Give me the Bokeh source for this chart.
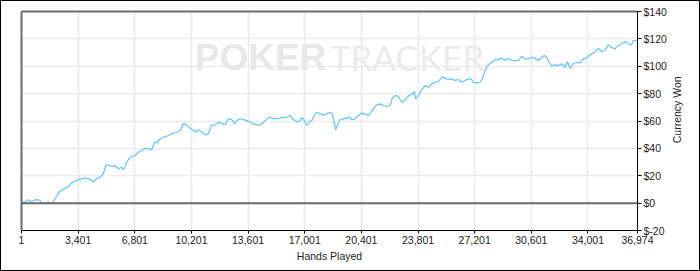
import math
from bokeh.plotting import figure
from bokeh.layouts import row
from bokeh.models import FixedTicker, LinearAxis, Range1d, Label, Span
from bokeh.embed import file_html
from bokeh.resources import INLINE

hands = [1, 222, 420, 582, 720, 918, 1122, 1260, 1422, 1620, 1782, 1920, 2058, 2220, 2382, 2622, 2820, 3018, 3180, 3378,
         3618, 3822, 4020, 4182, 4320, 4482, 4722, 4920, 5058, 5220, 5418, 5622, 5820, 6018, 6120,
         6318, 6522, 6822, 7020, 7218, 7422, 7620, 7818, 7980, 8118, 8322, 8520, 8820, 9018, 9318, 9522, 9720, 9918, 10122, 10320,
         10458, 10620, 10818, 11058, 11220, 11382, 11622, 11820, 12120,
         12222, 12420, 12618, 12780, 12918, 13122, 13320, 13518, 13722, 13920, 14118, 14322, 14520, 14718, 14922, 15120, 15318, 15522, 15720, 15918,
         16122, 16260, 16422, 16578, 16722, 16818, 16980, 17118, 17262, 17418, 17580, 17718, 17922, 18120,
         18222, 18522, 18660, 18780, 18858, 18978, 19122, 19320, 19518, 19722, 19818, 20022, 20220, 20418, 20622, 20820, 20982, 21120, 21318, 21522,
         21720, 21918, 22122, 22260, 22458, 22620, 22782, 22920, 23058, 23262, 23460, 23580, 23658, 23820, 23922, 24060,
         24222, 24420, 24618, 24822, 25020, 25260, 25422, 25620, 25818, 26022, 26220, 26418, 26622, 26820, 26982, 27120, 27318, 27522, 27678, 27822,
         27978, 28218, 28422, 28620, 28818, 29022, 29220, 29418, 29622,
         29820, 30018, 30222, 30420, 30618, 30822, 31020, 31218, 31380, 31518, 31662, 31818, 32022, 32220, 32418, 32622, 32778, 32922, 33120, 33318,
         33522, 33720, 33918, 34020, 34218, 34422, 34620, 34818, 35022, 35220, 35382, 35622, 35820, 36018, 36222, 36420, 36618, 36720, 36918, 36974]

won = [0, 0.7, 2.4, 1.2, 1.9, 2.6, 1.9, -0.5, 0.2, 0.7, -0.1, 1.2, 3.9, 7.5, 9.2, 10.9, 12.1, 14.8, 16.0, 17.0,
       17.7, 18.5, 17.7, 17.0, 15.3, 17.7, 18.9, 21.8, 27.5, 28.0, 26.7, 27.5, 25.1, 26.2, 24.3,
       29.9, 33.5, 34.8, 37.2, 38.4, 40.1, 39.7, 38.9, 44.5, 44.0, 47.0, 48.1, 49.4, 50.6, 51.8, 53.0, 57.9, 57.2, 54.7, 53.0,
       51.8, 53.5, 51.8, 49.9, 50.6, 56.7, 57.2, 59.1, 57.9,
       57.2, 61.6, 61.1, 57.9, 60.3, 61.6, 61.1, 60.3, 59.1, 57.9, 57.2, 57.4, 58.7, 61.6, 62.7, 61.6, 62.0, 62.0, 62.7, 62.7,
       64.0, 61.6, 60.3, 59.1, 60.3, 62.7, 60.3, 56.7, 59.1, 60.3, 64.0, 66.4, 65.2, 64.5,
       64.7, 66.4, 65.2, 58.4, 53.5, 57.4, 60.9, 61.6, 62.3, 62.7, 60.9, 61.6, 64.0, 65.7, 65.2, 64.0, 66.4, 68.9, 71.8, 72.5,
       71.3, 70.6, 71.3, 76.9, 78.6, 77.9, 74.4, 73.7, 76.2, 78.6, 79.8, 81.7, 76.2, 78.6, 81.0, 83.5,
       85.9, 84.7, 87.1, 88.3, 88.8, 92.5, 91.2, 90.3, 90.8, 89.6, 90.3, 88.3, 89.6, 90.8, 90.8, 88.3, 87.9, 88.3, 91.2, 96.9,
       100.5, 102.9, 104.7, 104.9, 105.9, 104.2, 105.9, 104.2, 104.2,
       104.2, 107.3, 105.4, 105.4, 106.4, 105.9, 104.2, 106.6, 107.8, 106.6, 102.9, 100.0, 101.0, 100.5, 101.8, 99.3, 103.4, 98.5, 101.8, 102.9,
       102.5, 105.4, 105.9, 107.3, 109.1, 110.2, 113.2, 110.7, 111.5, 115.6, 113.9, 112.7, 115.1, 116.4, 118.0, 116.4, 115.6, 118.8, 118.8, 119.5]

x_ticks = [1, 3401, 6801, 10201, 13601, 17001, 20401, 23801, 27201, 30601, 34001, 36974]
x_tick_labels = ["1", "3,401", "6,801", "10,201", "13,601", "17,001", "20,401", "23,801",
                 "27,201", "30,601", "34,001", "36,974"]
y_ticks = [-20, 0, 20, 40, 60, 80, 100, 120, 140]
y_tick_labels = ["$-20", "$0", "$20", "$40", "$60", "$80", "$100", "$120", "$140"]
y_title = "Currency Won"

FONT = "Liberation Sans"

p = figure(width=668, height=269, output_backend="svg", toolbar_location=None,
           x_range=Range1d(1, 36974), y_range=Range1d(-20, 140),
           y_axis_location="right",
           min_border_left=20, min_border_right=32, min_border_top=10, min_border_bottom=40,
           background_fill_color="white", border_fill_color="white")
p.outline_line_color = None

# bottom axis
xa = p.xaxis[0]
xa.ticker = FixedTicker(ticks=x_ticks)
xa.major_label_overrides = {t: l for t, l in zip(x_ticks, x_tick_labels)}
xa.axis_label = "Hands Played"
xa.axis_line_color = "#000000"
xa.major_tick_line_color = "#000000"
xa.major_tick_in = 0
xa.major_tick_out = 3
xa.minor_tick_line_color = None
xa.major_label_standoff = 2
xa.axis_label_standoff = 3
xa.major_label_text_font = FONT
xa.major_label_text_font_size = "10.5px"
xa.major_label_text_color = "#222222"
xa.axis_label_text_font = FONT
xa.axis_label_text_font_size = "10.5px"
xa.axis_label_text_font_style = "normal"
xa.axis_label_text_color = "#222222"

# right axis
ya = p.yaxis[0]
ya.ticker = FixedTicker(ticks=y_ticks)
ya.major_label_overrides = {t: l for t, l in zip(y_ticks, y_tick_labels)}
ya.axis_line_color = "#000000"
ya.major_tick_line_color = "#000000"
ya.major_tick_in = 0
ya.major_tick_out = 4
ya.minor_tick_line_color = None
ya.major_label_standoff = 2
ya.major_label_text_font = FONT
ya.major_label_text_font_size = "10.5px"
ya.major_label_text_color = "#222222"

# left and top frame lines (gray)
la = LinearAxis(ticker=FixedTicker(ticks=[]),
                axis_line_color="#6b6b6b", axis_line_width=2,
                major_tick_line_color=None, minor_tick_line_color=None, major_label_standoff=0)
p.add_layout(la, "left")
ta = LinearAxis(ticker=FixedTicker(ticks=[]),
                axis_line_color="#6b6b6b", axis_line_width=2,
                major_tick_line_color=None, minor_tick_line_color=None, major_label_standoff=0)
p.add_layout(ta, "above")

# grid
p.xgrid.ticker = FixedTicker(ticks=x_ticks)
p.ygrid.ticker = FixedTicker(ticks=y_ticks)
p.xgrid.grid_line_color = "#ebebeb"
p.ygrid.grid_line_color = "#ebebeb"
p.xgrid.grid_line_width = 1.5
p.ygrid.grid_line_width = 1.5

# watermark
wm1 = Label(x=10400, y=106.4, text="POKER", text_font=FONT, text_font_style="bold",
            text_font_size="37px", text_color="#e8e8e8", text_baseline="alphabetic", level="underlay")
wm2 = Label(x=18500, y=106.4, text="TRACKER", text_font="Lato",
            text_font_style="normal", text_font_size="35px", text_color="#ebebeb",
            text_baseline="alphabetic", level="underlay")
p.add_layout(wm1)
p.add_layout(wm2)

# zero line
p.add_layout(Span(location=0, dimension="width", line_color="#6b6b6b", line_width=2))

p.line(hands, won, line_color="#5cc4ff", line_width=1.2)

# narrow side panel holding the right-hand axis title (reads bottom-to-top)
side = figure(width=30, height=269, output_backend="svg", toolbar_location=None,
              x_range=Range1d(0, 30), y_range=Range1d(0, 269),
              x_axis_type=None, y_axis_type=None,
              min_border_left=0, min_border_right=0, min_border_top=0, min_border_bottom=0,
              background_fill_color="white", border_fill_color="white")
side.outline_line_color = None
side.xgrid.visible = False
side.ygrid.visible = False
side.add_layout(Label(x=7.5, y=148.3, text=y_title, angle=math.pi / 2,
                      text_font=FONT, text_font_size="10.5px", text_color="#222222",
                      text_align="center", text_baseline="middle"))

layout = row(p, side, styles={"border": "1px solid #000000"})

open("out.html", "w").write(file_html(layout, INLINE))
